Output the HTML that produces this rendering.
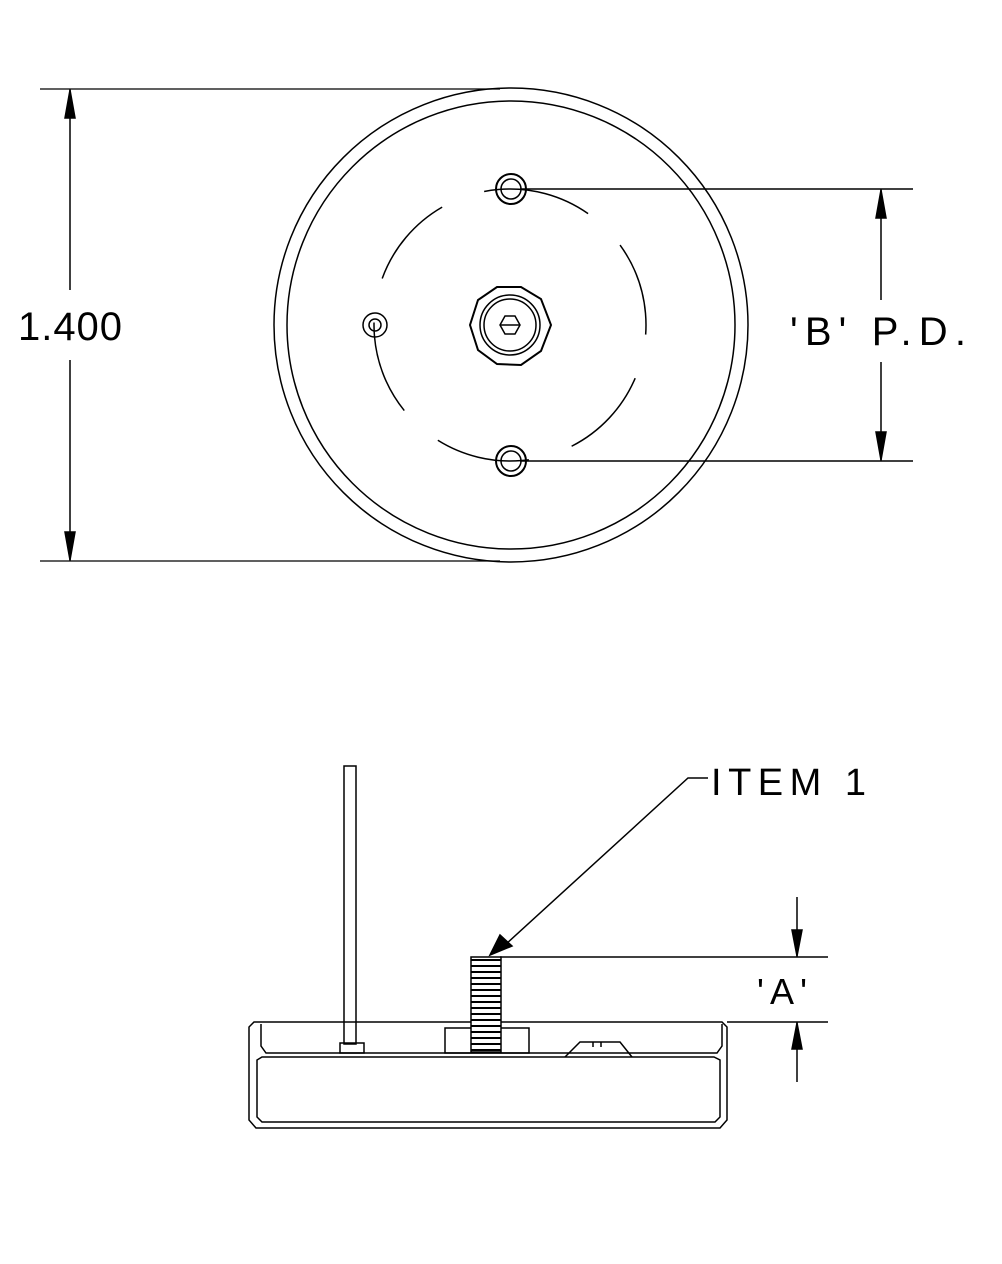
<!DOCTYPE html>
<html><head><style>body{margin:0;background:#fff}svg{display:block}</style></head><body>
<svg width="1002" height="1264" viewBox="0 0 1002 1264" xmlns="http://www.w3.org/2000/svg" fill="none" stroke="#000" stroke-width="1.5">
<!-- top view -->
<circle cx="511" cy="325" r="237"/>
<circle cx="511" cy="325" r="224"/>
<circle cx="510" cy="325" r="136" stroke-dasharray="95 45" transform="rotate(-95 510 325)"/>
<polygon points="551,325 541,351 521,365 497,364 478,350 470,325 478,300 497,287 521,287 541,299" stroke-width="2"/>
<circle cx="510" cy="325" r="30"/>
<circle cx="510" cy="325" r="26"/>
<polygon points="520,325 515,334 505,334 500,325 505,316 515,316"/>
<line x1="500" y1="325" x2="520" y2="325"/>
<circle cx="511" cy="189" r="15" stroke-width="2"/>
<circle cx="511" cy="189" r="10"/>
<circle cx="511" cy="461" r="15" stroke-width="2"/>
<circle cx="511" cy="461" r="10"/>
<circle cx="375" cy="325" r="12"/>
<circle cx="375" cy="325" r="6"/>
<!-- dims top -->
<line x1="40" y1="89" x2="500" y2="89" stroke-width="1.2"/>
<line x1="40" y1="561" x2="500" y2="561" stroke-width="1.2"/>
<line x1="70" y1="89" x2="70" y2="290"/>
<line x1="70" y1="360" x2="70" y2="561"/>
<polygon points="70,90 65,118 75,118" fill="#000"/>
<polygon points="70,560 65,532 75,532" fill="#000"/>
<text x="18" y="340" font-family="Liberation Sans, sans-serif" font-size="40" fill="#000" stroke="none" font-weight="300" textLength="104">1.400</text>
<line x1="520" y1="189" x2="913" y2="189"/>
<line x1="520" y1="461" x2="913" y2="461"/>
<line x1="881" y1="189" x2="881" y2="300"/>
<line x1="881" y1="362" x2="881" y2="461"/>
<polygon points="881,190 876,218 886,218" fill="#000"/>
<polygon points="881,460 876,432 886,432" fill="#000"/>
<text x="790" y="345" font-family="Liberation Sans, sans-serif" font-size="40" fill="#000" stroke="none" textLength="176">'B' P.D.</text>
<!-- bottom view -->
<rect x="344" y="766" width="12" height="278"/>
<rect x="340" y="1043" width="24" height="10"/>
<path d="M254,1022 L722,1022 L727,1027 L727,1120 L720,1128 L256,1128 L249,1120 L249,1027 Z"/>
<path d="M261,1024 L261,1046 L266,1053 L717,1053 L722,1046 L722,1024"/>
<path d="M257,1060 L257,1117 L262,1122 L715,1122 L720,1117 L720,1060 L714,1057 L262,1057 Z"/>
<rect x="445" y="1028" width="84" height="25"/>
<path d="M565,1057 L580,1042 L620,1042 L632,1057"/>
<line x1="593" y1="1042" x2="593" y2="1047"/><line x1="601" y1="1042" x2="601" y2="1047"/>
<rect x="471" y="957" width="30" height="95" fill="#fff"/>
<path d="M471,960 l30,0 M471,966 l30,0 M471,972 l30,0 M471,978 l30,0 M471,984 l30,0 M471,990 l30,0 M471,996 l30,0 M471,1002 l30,0 M471,1008 l30,0 M471,1014 l30,0 M471,1020 l30,0 M471,1026 l30,0 M471,1032 l30,0 M471,1038 l30,0 M471,1044 l30,0 M471,1050 l30,0" stroke-width="2"/>
<line x1="500" y1="957" x2="828" y2="957"/>
<line x1="727" y1="1022" x2="828" y2="1022"/>
<line x1="797" y1="897" x2="797" y2="957"/>
<polygon points="797,956 792,930 802,930" fill="#000"/>
<line x1="797" y1="1022" x2="797" y2="1082"/>
<polygon points="797,1023 792,1049 802,1049" fill="#000"/>
<text x="757" y="1004" font-family="Liberation Sans, sans-serif" font-size="36" fill="#000" stroke="none" textLength="50">'A'</text>
<polyline points="708,778 688,778 505,945"/>
<polygon points="490,955 500,935 512,946" fill="#000"/>
<text x="711" y="795" font-family="Liberation Sans, sans-serif" font-size="38" fill="#000" stroke="none" textLength="155">ITEM 1</text>
</svg>
</body></html>
